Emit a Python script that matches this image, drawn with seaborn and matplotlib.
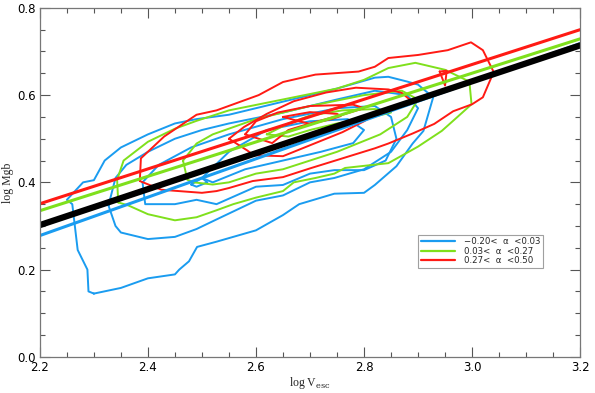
import pandas as pd
import seaborn as sns
import matplotlib.pyplot as plt
from matplotlib.lines import Line2D
from matplotlib.ticker import MultipleLocator

# colours of the three alpha bins
bin_colors = ["#1a9cf0", "#7fe01c", "#ff1a14"]
bin_labels = ["\u22120.20<  \u03b1  <0.03", "0.03<  \u03b1  <0.27", "0.27<  \u03b1  <0.50"]

# contour polygons (log Vesc, log Mgb)
blue_contours = [
    [(2.30, 0.145), (2.29, 0.15), (2.288, 0.20), (2.27, 0.245), (2.26, 0.35), (2.25, 0.36),
     (2.28, 0.40), (2.30, 0.405), (2.32, 0.45), (2.35, 0.48), (2.40, 0.51), (2.45, 0.535),
     (2.49, 0.545), (2.55, 0.555), (2.65, 0.585), (2.75, 0.615), (2.82, 0.64), (2.845, 0.642),
     (2.88, 0.631), (2.90, 0.624), (2.928, 0.595), (2.91, 0.518), (2.89, 0.489), (2.86, 0.437),
     (2.82, 0.394), (2.80, 0.376), (2.745, 0.374), (2.68, 0.35), (2.65, 0.325), (2.60, 0.29),
     (2.527, 0.264), (2.491, 0.252), (2.476, 0.219), (2.458, 0.20), (2.45, 0.189), (2.40, 0.18),
     (2.35, 0.158), (2.30, 0.145)],
    [(2.327, 0.347), (2.34, 0.30), (2.35, 0.285), (2.40, 0.27), (2.45, 0.275), (2.49, 0.293),
     (2.527, 0.315), (2.60, 0.358), (2.65, 0.37), (2.70, 0.40), (2.745, 0.41), (2.80, 0.43),
     (2.85, 0.47), (2.88, 0.52), (2.90, 0.57), (2.88, 0.60), (2.82, 0.61), (2.75, 0.59),
     (2.65, 0.56), (2.55, 0.535), (2.50, 0.52), (2.45, 0.50), (2.40, 0.47), (2.36, 0.44),
     (2.34, 0.41), (2.327, 0.347)],
    [(2.39, 0.40), (2.395, 0.35), (2.45, 0.35), (2.49, 0.36), (2.527, 0.35), (2.60, 0.39),
     (2.65, 0.394), (2.70, 0.42), (2.745, 0.428), (2.80, 0.428), (2.84, 0.45), (2.86, 0.50),
     (2.85, 0.55), (2.82, 0.575), (2.75, 0.57), (2.65, 0.545), (2.55, 0.51), (2.48, 0.48),
     (2.42, 0.44), (2.39, 0.40)],
    [(2.50, 0.41), (2.52, 0.40), (2.58, 0.43), (2.65, 0.45), (2.72, 0.47), (2.78, 0.49),
     (2.80, 0.52), (2.77, 0.545), (2.70, 0.54), (2.62, 0.52), (2.55, 0.47), (2.50, 0.41)],
    [(2.48, 0.395), (2.50, 0.41), (2.51, 0.40), (2.49, 0.39), (2.48, 0.395)],
]

green_contours = [
    [(2.345, 0.354), (2.343, 0.406), (2.355, 0.45), (2.40, 0.493), (2.45, 0.523), (2.49, 0.541),
     (2.55, 0.565), (2.65, 0.59), (2.75, 0.615), (2.80, 0.635), (2.845, 0.662), (2.895, 0.674),
     (2.95, 0.658), (2.995, 0.631), (2.999, 0.579), (2.973, 0.55), (2.944, 0.518), (2.90, 0.482),
     (2.845, 0.444), (2.765, 0.433), (2.745, 0.42), (2.71, 0.41), (2.67, 0.40), (2.65, 0.38),
     (2.60, 0.365), (2.558, 0.35), (2.527, 0.336), (2.49, 0.32), (2.45, 0.313), (2.40, 0.327),
     (2.364, 0.347), (2.345, 0.354)],
    [(2.465, 0.45), (2.49, 0.489), (2.52, 0.51), (2.60, 0.545), (2.70, 0.575), (2.80, 0.60),
     (2.87, 0.61), (2.90, 0.59), (2.88, 0.55), (2.83, 0.51), (2.75, 0.47), (2.65, 0.43),
     (2.60, 0.42), (2.55, 0.40), (2.52, 0.395), (2.485, 0.40), (2.473, 0.406), (2.465, 0.45)],
    [(2.62, 0.51), (2.66, 0.535), (2.70, 0.553), (2.76, 0.565), (2.82, 0.568), (2.85, 0.56),
     (2.80, 0.545), (2.75, 0.535), (2.70, 0.52), (2.66, 0.505), (2.62, 0.51)],
]

red_contours = [
    [(2.385, 0.403), (2.387, 0.455), (2.43, 0.505), (2.49, 0.555), (2.527, 0.565), (2.605, 0.60),
     (2.65, 0.63), (2.71, 0.647), (2.79, 0.654), (2.82, 0.665), (2.845, 0.685), (2.90, 0.692),
     (2.955, 0.703), (2.998, 0.721), (3.02, 0.703), (3.04, 0.653), (3.03, 0.624), (3.02, 0.595),
     (3.00, 0.579), (2.965, 0.563), (2.93, 0.534), (2.89, 0.512), (2.845, 0.489), (2.82, 0.478),
     (2.76, 0.455), (2.70, 0.432), (2.65, 0.412), (2.594, 0.403), (2.55, 0.387), (2.527, 0.38),
     (2.50, 0.376), (2.425, 0.383), (2.385, 0.403)],
    [(2.55, 0.50), (2.578, 0.527), (2.62, 0.557), (2.67, 0.586), (2.73, 0.606), (2.785, 0.617),
     (2.845, 0.613), (2.87, 0.605), (2.89, 0.584), (2.86, 0.57), (2.82, 0.555), (2.80, 0.54),
     (2.76, 0.515), (2.71, 0.49), (2.65, 0.46), (2.596, 0.462), (2.584, 0.473), (2.55, 0.50)],
    [(2.58, 0.51), (2.60, 0.54), (2.64, 0.56), (2.70, 0.575), (2.78, 0.578), (2.80, 0.57),
     (2.76, 0.555), (2.70, 0.535), (2.66, 0.52), (2.63, 0.49), (2.58, 0.51)],
    [(2.65, 0.55), (2.70, 0.561), (2.75, 0.557), (2.757, 0.552), (2.74, 0.545), (2.70, 0.534),
     (2.68, 0.54), (2.65, 0.55)],
    [(2.94, 0.654), (2.953, 0.656), (2.95, 0.622), (2.94, 0.654)],
]

# straight-line fits: value at log Vesc = 2.2 and at 3.2
fit_x = [2.2, 3.2]
blue_fit = [0.278, 0.718]
green_fit = [0.335, 0.729]
red_fit = [0.351, 0.750]
all_fit = [0.302, 0.714]

sns.set_style("ticks")
plt.rcParams["font.family"] = ["DejaVu Sans"]
plt.rcParams["mathtext.fontset"] = "dejavuserif"

fig = plt.figure(figsize=(5.95, 3.93), dpi=100)
ax = fig.add_axes([0.067, 0.092, 0.908, 0.888])

for polys, col in zip([blue_contours, green_contours, red_contours], bin_colors):
    for p in polys:
        df = pd.DataFrame(p, columns=["x", "y"])
        sns.lineplot(data=df, x="x", y="y", sort=False, estimator=None,
                     color=col, lw=1.4, ax=ax)

for fit, col in zip([blue_fit, green_fit, red_fit], bin_colors):
    sns.lineplot(x=fit_x, y=fit, color=col, lw=2.2, ax=ax)
sns.lineplot(x=fit_x, y=all_fit, color="black", lw=4.5, ax=ax)

ax.set_xlim(2.2, 3.2)
ax.set_ylim(0.0, 0.8)
ax.xaxis.set_major_locator(MultipleLocator(0.2))
ax.xaxis.set_minor_locator(MultipleLocator(0.05))
ax.yaxis.set_major_locator(MultipleLocator(0.2))
ax.yaxis.set_minor_locator(MultipleLocator(0.05))
ax.tick_params(which="both", direction="in", top=True, right=True, colors="#555555",
               labelcolor="black", labelsize=8.5, width=0.8)
ax.tick_params(which="major", length=7, pad=3)
ax.tick_params(which="minor", length=3.5)
for s in ax.spines.values():
    s.set_color("#777777")
    s.set_linewidth(0.9)

ax.set_xlabel("log V$_{\\rm esc}$", fontsize=8.5, family="Liberation Serif", labelpad=1)
ax.set_ylabel("log Mgb", fontsize=8.5, family="Liberation Serif", labelpad=2)

handles = [Line2D([], [], color=c, lw=1.6) for c in bin_colors]
leg = ax.legend(handles, bin_labels, loc="upper left", bbox_to_anchor=(0.70, 0.35),
                fontsize=6.2, frameon=True, fancybox=False, edgecolor="#888888",
                handlelength=4.0, borderpad=0.3, labelspacing=0.05, handletextpad=1.0,
                borderaxespad=0)
leg.get_frame().set_linewidth(0.8)
leg._legend_box.align = "right"
for t in leg.get_texts():
    t.set_ha("right")

fig.savefig("out.png", dpi=100)
